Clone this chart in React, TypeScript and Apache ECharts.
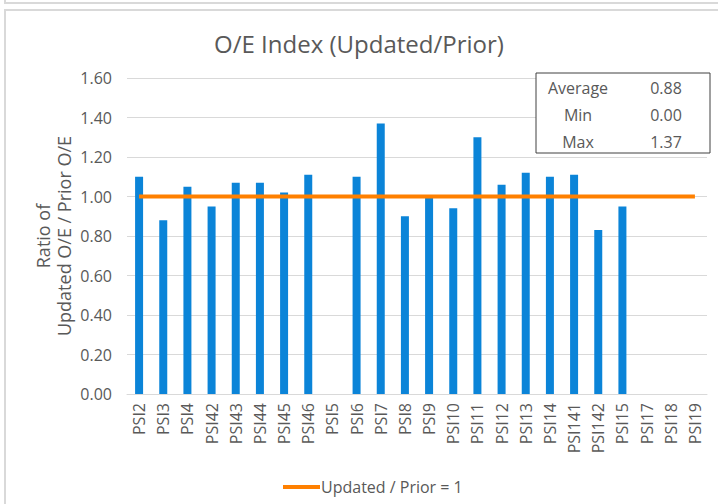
import React, { useEffect, useRef } from "react";
import * as echarts from "echarts";

const categories = [
  "PSI2", "PSI3", "PSI4", "PSI42", "PSI43", "PSI44", "PSI45", "PSI46", "PSI5", "PSI6",
  "PSI7", "PSI8", "PSI9", "PSI10", "PSI11", "PSI12", "PSI13", "PSI14", "PSI141", "PSI142",
  "PSI15", "PSI17", "PSI18", "PSI19",
];
const ratioValues = [
  1.10, 0.88, 1.05, 0.95, 1.07, 1.07, 1.02, 1.11, 0.0, 1.10,
  1.37, 0.90, 1.00, 0.94, 1.30, 1.06, 1.12, 1.10, 1.11, 0.83,
  0.95, 0.0, 0.0, 0.0,
];
const referenceValues = categories.map(() => 1);
const yTicks = [0, 0.2, 0.4, 0.6, 0.8, 1.0, 1.2, 1.4, 1.6];
const statLabels = ["Average", "Min", "Max"];

const FONT = "'Open Sans', sans-serif";
const TEXT = "#595959";

export default function App() {
  const ref = useRef<HTMLDivElement>(null);
  useEffect(() => {
    if (!ref.current) return;
    const chart = echarts.init(ref.current, null, { renderer: "svg" });
    const avg = ratioValues.reduce((a, b) => a + b, 0) / ratioValues.length;
    const statValues = [avg, Math.min(...ratioValues), Math.max(...ratioValues)];
    const statY = [88, 115, 142];
    const statTexts: any[] = [];
    statLabels.forEach((l, i) => {
      statTexts.push({
        type: "text", x: 578, y: statY[i],
        style: { text: l, fill: TEXT, font: `16px ${FONT}`, align: "center", verticalAlign: "middle" },
      });
      statTexts.push({
        type: "text", x: 666, y: statY[i],
        style: { text: statValues[i].toFixed(2), fill: TEXT, font: `16px ${FONT}`, align: "center", verticalAlign: "middle" },
      });
    });
    chart.setOption({
      animation: false,
      backgroundColor: "#ffffff",
      title: {
        text: "O/E Index (Updated/Prior)",
        left: "center",
        top: 26,
        textStyle: { color: TEXT, fontSize: 24, fontWeight: "normal", fontFamily: FONT },
      },
      grid: { left: 127, right: 11, top: 78, bottom: 110 },
      legend: {
        data: ["Updated / Prior = 1"],
        left: 278,
        top: 474,
        icon: "rect",
        itemWidth: 37,
        itemHeight: 4,
        itemGap: 0,
        textStyle: { color: TEXT, fontSize: 16, fontFamily: FONT, padding: [0, 0, 0, -4] },
      },
      xAxis: {
        type: "category",
        data: categories,
        axisLine: { lineStyle: { color: "#d9d9d9", width: 1 } },
        axisTick: { show: false },
        axisLabel: { rotate: 90, color: TEXT, fontSize: 16, fontFamily: FONT, margin: 9, interval: 0 },
      },
      yAxis: {
        type: "value",
        min: yTicks[0],
        max: yTicks[yTicks.length - 1],
        interval: 0.2,
        axisLine: { show: false },
        axisTick: { show: false },
        splitLine: { lineStyle: { color: "#d9d9d9", width: 1 } },
        axisLabel: {
          color: TEXT, fontSize: 16, fontFamily: FONT, margin: 15,
          formatter: (v: number) => v.toFixed(2),
        },
      },
      series: [
        {
          name: "Ratio",
          type: "bar",
          data: ratioValues,
          barWidth: 8,
          itemStyle: { color: "#0b84d8" },
        },
        {
          name: "Updated / Prior = 1",
          type: "line",
          data: referenceValues,
          symbol: "none",
          lineStyle: { color: "#ff8000", width: 4 },
          itemStyle: { color: "#ff8000" },
          z: 3,
        },
      ],
      graphic: [
        {
          type: "rect", shape: { x: 5, y: -20, width: 760, height: 23 },
          style: { fill: "none", stroke: "#d9d9d9", lineWidth: 2 },
        },
        {
          type: "rect", shape: { x: 5, y: 10, width: 760, height: 560 },
          style: { fill: "none", stroke: "#d9d9d9", lineWidth: 2 },
        },
        {
          type: "text", x: 53, y: 236, rotation: Math.PI / 2,
          style: {
            text: "Ratio of\nUpdated O/E / Prior O/E",
            fill: TEXT, font: `18px ${FONT}`, align: "center", verticalAlign: "middle", lineHeight: 21,
          },
        },
        {
          type: "rect", shape: { x: 536, y: 73, width: 174, height: 80 },
          style: { fill: "#ffffff", stroke: "#404040", lineWidth: 1 }, z: 10,
        },
        ...statTexts.map((t) => ({ ...t, z: 11 })),
      ],
    });
    return () => chart.dispose();
  }, []);
  return (
    <div
      ref={ref}
      style={{ position: "absolute", left: 0, top: 0, width: 718, height: 504 }}
    />
  );
}
